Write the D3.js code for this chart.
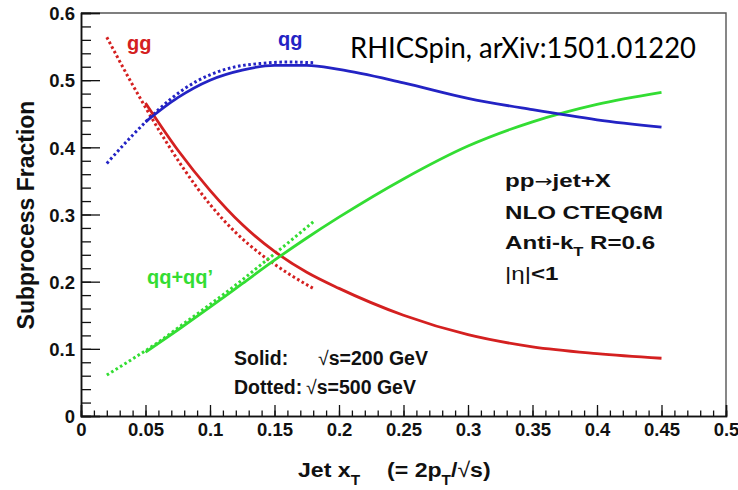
<!DOCTYPE html>
<html>
<head>
<meta charset="utf-8">
<script src="https://cdn.jsdelivr.net/npm/d3@7"></script>
<style>
  body { margin: 0; background: #fff; }
  text { font-family: "Liberation Sans", Arial, sans-serif; font-weight: bold; fill: #111; }
  .credit { font-family: Lato, "Open Sans", sans-serif; font-weight: normal; fill: #000; }
</style>
</head>
<body>
<div id="chart"></div>
<script>
// x grid of the sqrt(s)=200 GeV curves (solid)
const xSolid = [0.05, 0.075, 0.1, 0.125, 0.15, 0.175, 0.2, 0.25, 0.3, 0.35, 0.4, 0.45];
const ggSolid = [0.466, 0.396, 0.336, 0.285, 0.245, 0.214, 0.190, 0.150, 0.121, 0.103, 0.093, 0.086];
const qgSolid = [0.438, 0.474, 0.500, 0.515, 0.522, 0.522, 0.516, 0.496, 0.473, 0.456, 0.441, 0.430];
const qqSolid = [0.095, 0.128, 0.162, 0.197, 0.232, 0.265, 0.296, 0.353, 0.402, 0.438, 0.464, 0.482];

// x grid of the sqrt(s)=500 GeV curves (dotted)
const xDotted = [0.02, 0.04, 0.06, 0.08, 0.1, 0.12, 0.14, 0.16, 0.18];
const ggDotted = [0.564, 0.493, 0.427, 0.367, 0.315, 0.273, 0.240, 0.213, 0.190];
const qgDotted = [0.376, 0.418, 0.456, 0.487, 0.508, 0.520, 0.525, 0.527, 0.526];
const qqDotted = [0.061, 0.085, 0.110, 0.138, 0.166, 0.195, 0.226, 0.257, 0.289];

const xTicks = [0, 0.05, 0.1, 0.15, 0.2, 0.25, 0.3, 0.35, 0.4, 0.45, 0.5];
const yTicks = [0, 0.1, 0.2, 0.3, 0.4, 0.5, 0.6];

const colors = { gg: '#d42020', qg: '#2323c4', qq: '#33dd33' };

const config = {
  containerWidth: 738,
  containerHeight: 490,
  margin: { top: 13, right: 12, bottom: 74, left: 81 },
};
const width = config.containerWidth - config.margin.left - config.margin.right;
const height = config.containerHeight - config.margin.top - config.margin.bottom;

const svg = d3.select('#chart').append('svg')
  .attr('width', config.containerWidth)
  .attr('height', config.containerHeight);

const chart = svg.append('g')
  .attr('transform', `translate(${config.margin.left},${config.margin.top})`);

const xScale = d3.scaleLinear().domain([0, 0.5]).range([0, width]);
const yScale = d3.scaleLinear().domain([0, 0.6]).range([height, 0]);

const fmt = (d) => (d === 0 ? '0' : String(+d.toFixed(2)));

// frame (top + right sides, no ticks there)
chart.append('path')
  .attr('d', `M0,0H${width}V${height}`)
  .attr('fill', 'none')
  .attr('stroke', '#555')
  .attr('stroke-width', 1.4);

// minor ticks first, then major ticks with labels (ticks point inward)
chart.append('g')
  .attr('class', 'axis y-minor')
  .call(d3.axisLeft(yScale).tickValues(d3.range(0, 0.601, 0.02)).tickSize(-10).tickFormat(''));
chart.append('g')
  .attr('class', 'axis y-axis')
  .call(d3.axisLeft(yScale).tickValues(yTicks).tickSize(-19).tickPadding(6).tickFormat(fmt));

chart.append('g')
  .attr('class', 'axis x-minor')
  .attr('transform', `translate(0,${height})`)
  .call(d3.axisBottom(xScale).tickValues(d3.range(0, 0.501, 0.01)).tickSize(-5.5).tickFormat(''));
chart.append('g')
  .attr('class', 'axis x-axis')
  .attr('transform', `translate(0,${height})`)
  .call(d3.axisBottom(xScale).tickValues(xTicks).tickSize(-11).tickPadding(7).tickFormat(fmt));

chart.selectAll('.axis path.domain').attr('stroke', '#111').attr('stroke-width', 1.5);
chart.selectAll('.axis .tick line').attr('stroke', '#111').attr('stroke-width', 1.3);
chart.selectAll('.axis').attr('font-family', null).attr('font-size', 18.5);
chart.selectAll('.axis .tick text').attr('fill', '#111');
chart.selectAll('.y-axis .tick text').attr('dy', '0.36em');
chart.selectAll('.x-axis .tick text').attr('dy', '0.72em');

// curves
const line = d3.line()
  .x((d) => xScale(d[0]))
  .y((d) => yScale(d[1]))
  .curve(d3.curveMonotoneX);

const curves = [
  { xs: xDotted, ys: ggDotted, color: colors.gg, dotted: true },
  { xs: xDotted, ys: qgDotted, color: colors.qg, dotted: true },
  { xs: xDotted, ys: qqDotted, color: colors.qq, dotted: true },
  { xs: xSolid, ys: ggSolid, color: colors.gg, dotted: false },
  { xs: xSolid, ys: qqSolid, color: colors.qq, dotted: false },
  { xs: xSolid, ys: qgSolid, color: colors.qg, dotted: false },
];

chart.selectAll('.curve')
  .data(curves)
  .join('path')
  .attr('class', 'curve')
  .attr('d', (c) => line(c.xs.map((x, i) => [x, c.ys[i]])))
  .attr('fill', 'none')
  .attr('stroke', (c) => c.color)
  .attr('stroke-width', (c) => (c.dotted ? 3 : 2.8))
  .attr('stroke-dasharray', (c) => (c.dotted ? '2.6,2.6' : null));

// curve labels
const labels = svg.append('g').attr('font-size', 20);
labels.append('text').attr('x', 127).attr('y', 50).style('fill', colors.gg).text('gg');
labels.append('text').attr('x', 278).attr('y', 46).style('fill', colors.qg).text('qg');
labels.append('text').attr('x', 147).attr('y', 284).style('fill', colors.qq).text('qq+qq\u2019');

// credit line
svg.append('text').attr('class', 'credit')
  .attr('x', 350).attr('y', 58)
  .attr('font-size', 29)
  .attr('textLength', 346).attr('lengthAdjust', 'spacingAndGlyphs')
  .text('RHICSpin, arXiv:1501.01220');

// process notes (wide bold face in the original -> stretch horizontally)
const notes = svg.append('g')
  .attr('font-size', 19)
  .attr('transform', 'translate(505,0) scale(1.27,1)');
const pp = notes.append('text').attr('x', 0).attr('y', 187);
pp.append('tspan').text('pp');
pp.append('tspan').attr('font-family', 'DejaVu Sans').attr('font-weight', 'normal')
  .attr('font-size', 17).text('\u2192');
pp.append('tspan').text('jet+X');
notes.append('text').attr('x', 0).attr('y', 219).text('NLO CTEQ6M');
const anti = notes.append('text').attr('x', 0).attr('y', 249);
anti.append('tspan').text('Anti-k');
anti.append('tspan').attr('font-size', 13).attr('dy', 7).text('T');
anti.append('tspan').attr('dy', -7).text(' R=0.6');
const eta = notes.append('text').attr('x', 0).attr('y', 280);
eta.append('tspan').attr('font-weight', 'normal').text('|\u03b7|');
eta.append('tspan').text('<1');

const energy = svg.append('g').attr('font-size', 19.5);
energy.append('text').attr('x', 234).attr('y', 365).text('Solid:');
energy.append('text').attr('x', 318).attr('y', 365)
  .html('<tspan font-weight="normal">\u221a</tspan>s=200 GeV');
energy.append('text').attr('x', 234).attr('y', 394).text('Dotted:');
energy.append('text').attr('x', 306).attr('y', 394)
  .html('<tspan font-weight="normal">\u221a</tspan>s=500 GeV');

// axis titles
svg.append('text')
  .attr('font-size', 23)
  .attr('transform', 'translate(34,215) rotate(-90)')
  .attr('text-anchor', 'middle')
  .text('Subprocess Fraction');

const xTitle = svg.append('g')
  .attr('font-size', 21)
  .attr('transform', 'translate(298,477) scale(1.1,1)');
const t1 = xTitle.append('text').attr('x', 0).attr('y', 0);
t1.append('tspan').text('Jet x');
t1.append('tspan').attr('font-size', 14).attr('dy', 8).text('T');
const t2 = xTitle.append('text').attr('x', 81).attr('y', 0);
t2.append('tspan').text('(= 2p');
t2.append('tspan').attr('font-size', 14).attr('dy', 8).text('T');
t2.append('tspan').attr('dy', -8).html('/<tspan font-weight="normal">\u221a</tspan>s)');
</script>
</body>
</html>
